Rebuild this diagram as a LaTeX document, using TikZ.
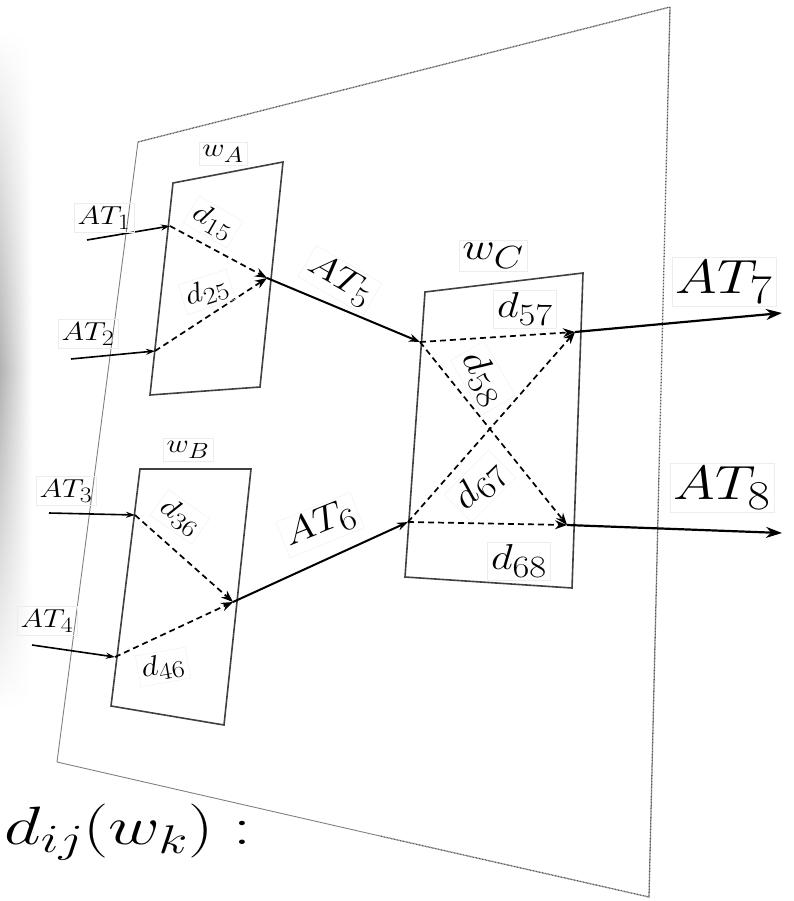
\RequirePackage{fix-cm}
\documentclass[tikz,border=0pt]{standalone}
\usetikzlibrary{arrows.meta,fadings}
\DeclareMathSizes{26}{26}{22}{18}
\DeclareMathSizes{28}{28}{24}{20}
\DeclareMathSizes{34}{34}{29}{24}
\DeclareMathSizes{36}{36}{31}{26}
\DeclareMathSizes{38}{38}{32}{26}
\DeclareMathSizes{48}{48}{41}{32}
\DeclareMathSizes{54}{54}{40}{28}
\begin{document}
\begin{tikzpicture}[x=1pt,y=-1pt,
  planesolid/.style={draw=black!50, line width=0.9pt},
  planedot/.style={draw=black!65, line width=1.3pt, dash pattern=on 0.9pt off 0.6pt},
  wbox/.style={draw=black!75, line width=1.6pt},
  lbl/.style={draw=black!7, inner sep=3pt, xscale=1.18},
  inarrow/.style={line width=1.6pt, -{Stealth[length=9pt,width=6pt]}},
  flow/.style={line width=2pt, -{Stealth[length=11pt,width=8pt]}},
  outarrow/.style={line width=2.2pt, -{Stealth[length=16pt,width=11pt]}},
  dsh/.style={line width=1.7pt, dash pattern=on 6pt off 4pt, -{Stealth[length=12pt,width=9pt]}},
  fs/.style={font=\fontsize{#1}{#1}\selectfont}
]
\path[use as bounding box] (0,0) rectangle (794,901);
% soft shadow on the left
\shade[top color=white, bottom color=white, middle color=black!30, path fading=east, draw=none] (0,30) rectangle (32,710);

% plane
\coordinate (P1) at (138,142);
\coordinate (P2) at (670,7);
\coordinate (P3) at (649,897);
\coordinate (P4) at (57,762);
\coordinate (PM) at (380,836);
\draw[planesolid] (PM) -- (P4) -- (P1);
\draw[planedot] (P1) -- (P2) -- (P3) -- (PM);

% boxes
\draw[wbox] (173,183) -- (283,162) -- (260,387) -- (150,395) -- cycle;
\draw[wbox] (140,469) -- (251,469) -- (224,725) -- (111,706) -- cycle;
\draw[wbox] (425,292) -- (583,273) -- (572,588) -- (405,577) -- cycle;

% junction points
\coordinate (s1) at (87,240);  \coordinate (ja1) at (170,226);
\coordinate (s2) at (71,359);  \coordinate (ja2) at (155,351);
\coordinate (jA) at (267,278);
\coordinate (s3) at (49,513);  \coordinate (jb3) at (135,515);
\coordinate (s4) at (32,645);  \coordinate (jb4) at (115,657);
\coordinate (jB) at (233,602);
\coordinate (jc5) at (420,342);
\coordinate (jc6) at (408,522);
\coordinate (jc7) at (575,332);
\coordinate (jc8) at (567,525);
\coordinate (e7) at (782,313);
\coordinate (e8) at (782,533);

% input arrows
\draw[inarrow] (s1) -- (ja1);
\draw[inarrow] (s2) -- (ja2);
\draw[inarrow] (s3) -- (jb3);
\draw[inarrow] (s4) -- (jb4);

% internal dashed paths
\draw[dsh] (ja1) -- (jA);
\draw[dsh] (ja2) -- (jA);
\draw[dsh] (jb3) -- (jB);
\draw[dsh] (jb4) -- (jB);
\draw[dsh] (jc5) -- (jc7);
\draw[dsh] (jc5) -- (jc8);
\draw[dsh] (jc6) -- (jc7);
\draw[dsh] (jc6) -- (jc8);

% flows between boxes
\draw[flow] (jA) -- (jc5);
\draw[flow] (jB) -- (jc6);
\draw[outarrow] (jc7) -- (e7);
\draw[outarrow] (jc8) -- (e8);

% labels
\node[lbl, fs=26] (lwA) at (223,154) {$w_A$};
\node[lbl, fs=26] (lwB) at (188,450) {$w_B$};
\node[lbl, fs=38] (lwC) at (493,256) {$w_C$};

\node[lbl, fs=26] (lAT1) at (104,218) {$AT_1$};
\node[lbl, fs=26] (lAT2) at (88,334) {$AT_2$};
\node[lbl, fs=26] (lAT3) at (66,491) {$AT_3$};
\node[lbl, fs=26] (lAT4) at (47,621) {$AT_4$};
\node[rotate=-30, lbl, fs=34] (lAT5) at (340,280) {$AT_5$};
\node[rotate=22, lbl, fs=36] (lAT6) at (320,525) {$AT_6$};
\node[lbl, fs=48] (lAT7) at (724,282) {$AT_7$};
\node[lbl, fs=48] (lAT8) at (722,488) {$AT_8$};

\node[rotate=-30, lbl, fs=28] (ld15) at (213,222) {$d_{15}$};
\node[rotate=18, lbl, fs=28] (ld25) at (207,292) {$d_{25}$};
\node[rotate=-35, lbl, fs=28] (ld36) at (180,517) {$d_{36}$};
\node[rotate=10, lbl, fs=28] (ld46) at (163,667) {$d_{46}$};
\node[lbl, fs=36] (ld57) at (525,309) {$d_{57}$};
\node[rotate=-60, lbl, fs=36] (ld58) at (483,378) {$d_{58}$};
\node[rotate=45, lbl, fs=36] (ld67) at (480,486) {$d_{67}$};
\node[lbl, fs=36] (ld68) at (519,561) {$d_{68}$};

\node[fs=54, anchor=west, xscale=1.32] (title) at (0,832) {$d_{ij}(w_k):$};
\end{tikzpicture}
\end{document}
